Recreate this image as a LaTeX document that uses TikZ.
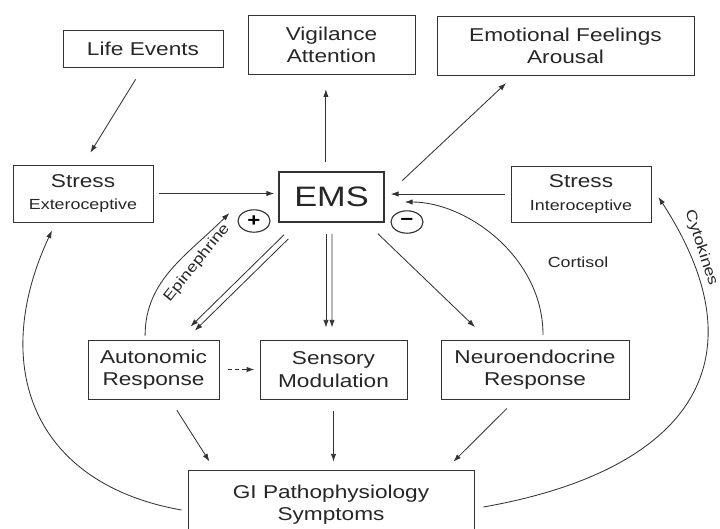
\documentclass[tikz,border=0pt]{standalone}
\usepackage{fontspec}
\setmainfont{Liberation Sans}[FakeStretch=1.22]
\usepackage{xcolor}
\usepackage{tikz}
\usetikzlibrary{arrows.meta, shapes.geometric}

\newcommand{\mainsize}{\fontsize{13.2}{15.8}\selectfont}
\newcommand{\smallsize}{\fontsize{10.4}{12.5}\selectfont}

\begin{document}
\begin{tikzpicture}[
    x=0.025cm, y=0.025cm,
    box/.style={draw=black!80, rectangle, line width=0.6pt,
                minimum height=1.475cm, inner sep=2pt,
                align=center, font=\mainsize, text=black!85},
    sign/.style={draw=black!80, ellipse, line width=0.8pt,
                 minimum width=0.8cm, minimum height=0.56cm, inner sep=0pt,
                 font=\bfseries\fontsize{13}{13}\selectfont},
    lbl/.style={font=\smallsize, text=black!85, inner sep=1pt},
    arr/.style={->, draw=black!80, line width=0.6pt},
    >={Latex[length=5.5pt, width=3.8pt]}
]
\useasboundingbox (0,0) rectangle (720,528);
%% Top row: outcomes of the EMS
\node[box, minimum width=4cm, minimum height=0.925cm] (life) at (143, 479.5) {Life Events};
\node[box, minimum width=4.175cm] (vig) at (331.5, 483.5) {Vigilance\\Attention};
\node[box, minimum width=6.425cm] (emo) at (565.5, 482.5) {Emotional Feelings\\Arousal};
%% Middle row: stress inputs and the EMS
\node[box, minimum width=3.5cm, minimum height=1.425cm] (ext) at (83, 334.5) {Stress\\{\smallsize Exteroceptive}};
\node[box, line width=1.1pt, font=\fontsize{20}{24}\selectfont,
      minimum width=2.625cm, minimum height=1.25cm] (ems) at (331.5, 331) {EMS};
\node[box, minimum width=3.5cm, minimum height=1.4cm] (int) at (581, 334) {Stress\\{\smallsize Interoceptive}};
\node[sign] (plus) at (254, 307) {+};
\node[sign] (minus) at (407, 306) {−};
%% Lower row: responses
\node[box, minimum width=3.275cm] (auto) at (153.5, 158.5) {Autonomic\\Response};
\node[box, minimum width=3.675cm] (sens) at (333.5, 158.5) {Sensory\\Modulation};
\node[box, minimum width=4.7cm] (neuro) at (535, 158.5) {Neuroendocrine\\Response};
\node[box, minimum width=7.15cm, minimum height=1.75cm] (gi) at (331, 23) {GI Pathophysiology\\Symptoms};
%% Labels on the feedback loops
\node[lbl] (cort) at (578, 266) {Cortisol};
\node[lbl, rotate=51] (epi) at (197, 265) {Epinephrine};
\node[lbl, rotate=-72] (cyto) at (701, 280) {Cytokines};
%% Arrows: into and out of the EMS
\draw[arr, shorten <=0.35cm, shorten >=0.35cm] (life.south) -- (ext.north);
\draw[arr, shorten <=0.13cm, shorten >=0.1cm] (ext.east) -- (ext.east -| ems.west);
\draw[arr, shorten <=0.15cm, shorten >=0.15cm] (int.west) -- (int.west -| ems.east);
\draw[arr, shorten <=0.23cm, shorten >=0.37cm] ([xshift=-0.14cm]ems.north) -- ([xshift=-0.14cm]vig.south);
\draw[arr, shorten <=0.6cm, shorten >=0.28cm] (ems.east) -- ([xshift=-1.28cm]emo.south);
\foreach \s in {-1,1}
  \draw[arr, shorten <=0.5cm, shorten >=0.39cm]
    ([shift={(-31+\s*2.1, -\s*2.1)}]ems.south) -- ([shift={(28+\s*2.1, -\s*2.1)}]auto.north);
\foreach \s in {-1,1}
  \draw[arr, shorten <=0.28cm, shorten >=0.3cm]
    ([shift={(\s*3-2.5, 0)}]ems.south) -- ([shift={(\s*3-4.5, 0)}]sens.north);
\draw[arr, shorten <=0.39cm, shorten >=0.45cm] ([xshift=0.875cm]ems.south) -- ([xshift=-1.175cm]neuro.north);
%% Arrows: responses to GI
\draw[arr, dashed, dash pattern=on 3pt off 2pt, shorten <=0.22cm, shorten >=0.13cm] (auto.east) -- (sens.west);
\draw[arr, shorten <=0.32cm, shorten >=0.24cm] ([xshift=0.4125cm]auto.south) -- ([xshift=0.675cm]gi.north west);
\draw[arr, shorten <=0.28cm, shorten >=0.2cm] (sens.south) -- (sens.south |- gi.north);
\draw[arr, shorten <=0.32cm, shorten >=0.28cm] ([xshift=-0.475cm]neuro.south) -- ([xshift=-0.725cm]gi.north east);
%% Feedback loops
\draw[arr, shorten <=0.12cm, shorten >=0.5cm] ([xshift=0.2cm]neuro.north) to[out=90, in=0] ([yshift=-0.125cm]ems.east);
\draw[arr, shorten <=0.1cm] ([xshift=-0.21cm]auto.north) to[out=90, in=225] ([shift={(-8,8)}]plus.west);
\draw[arr] ([shift={(-6,-5)}]gi.west) to[out=170, in=245, looseness=1.25] ([shift={(-31,-8)}]ext.south);
\draw[arr] ([shift={(9,-2)}]gi.east) to[out=10, in=303, looseness=1.45] ([shift={(7,-3)}]int.east);
\end{tikzpicture}
\end{document}
